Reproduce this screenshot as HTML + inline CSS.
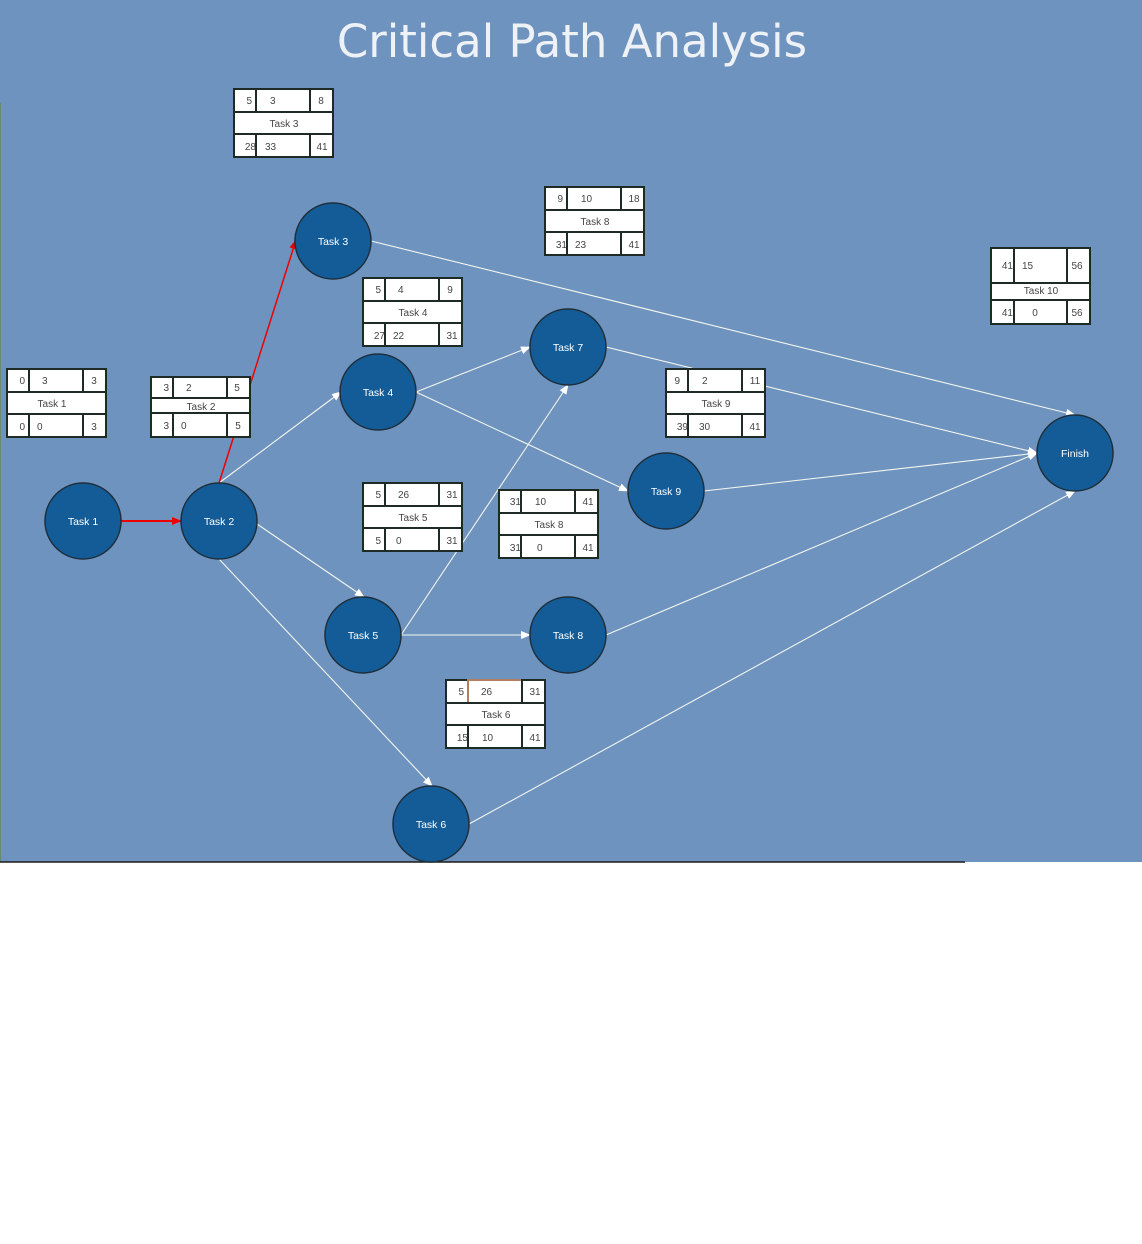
<!DOCTYPE html>
<html><head><meta charset="utf-8"><style>
body{margin:0;width:1142px;height:1244px;background:#fff;overflow:hidden}
svg{display:block}
text{font-family:"Liberation Sans",sans-serif}
.b rect{fill:#fff;stroke:#1e2a24;stroke-width:2}
.b text{font-size:10px;fill:#444}
.n circle{fill:#135c98;stroke:#1e2e3a;stroke-width:1.5}
.n text{font-size:10.5px;fill:#fff;text-anchor:middle}
.e{stroke:#f2f6ee;stroke-width:1.1;fill:none}
</style></head><body>
<svg width="1142" height="1244" viewBox="0 0 1142 1244">
<defs>
<marker id="aw" markerWidth="10" markerHeight="8" refX="9" refY="4" orient="auto" markerUnits="userSpaceOnUse"><path d="M0,0L10,4L0,8z" fill="#fff"/></marker>
<marker id="ar" markerWidth="10" markerHeight="8" refX="9" refY="4" orient="auto" markerUnits="userSpaceOnUse"><path d="M0,0L10,4L0,8z" fill="#e00"/></marker>
</defs>
<rect x="0" y="0" width="1142" height="862" fill="#6f93bf"/>
<line x1="0.5" y1="103" x2="0.5" y2="862" stroke="#6a8a70" stroke-width="1"/>
<line x1="0" y1="862" x2="965" y2="862" stroke="#1a1a1a" stroke-width="1.5"/>
<text x="572" y="57" font-size="45" fill="#eef2f6" text-anchor="middle" style="font-family:'DejaVu Sans','Liberation Sans',sans-serif;font-weight:normal">Critical Path Analysis</text>

<!-- edges -->
<line class="e" x1="371" y1="241" x2="1075" y2="415" marker-end="url(#aw)"/>
<line class="e" x1="219" y1="483" x2="341" y2="392" marker-end="url(#aw)"/>
<line class="e" x1="257" y1="524" x2="364" y2="597" marker-end="url(#aw)"/>
<line class="e" x1="219" y1="559" x2="432" y2="786" marker-end="url(#aw)"/>
<line class="e" x1="416" y1="392" x2="530" y2="347" marker-end="url(#aw)"/>
<line class="e" x1="416" y1="392" x2="628" y2="491" marker-end="url(#aw)"/>
<line class="e" x1="606" y1="347" x2="1037" y2="453" marker-end="url(#aw)"/>
<line class="e" x1="704" y1="491" x2="1037" y2="453" marker-end="url(#aw)"/>
<line class="e" x1="401" y1="635" x2="568" y2="385" marker-end="url(#aw)"/>
<line class="e" x1="401" y1="635" x2="530" y2="635" marker-end="url(#aw)"/>
<line class="e" x1="606" y1="635" x2="1037" y2="453" marker-end="url(#aw)"/>
<line class="e" x1="469" y1="824" x2="1075" y2="491" marker-end="url(#aw)"/>
<line x1="121" y1="521" x2="181" y2="521" stroke="#e00" stroke-width="2" marker-end="url(#ar)"/>
<line x1="219" y1="483" x2="296" y2="240" stroke="#e00" stroke-width="1.5" marker-end="url(#ar)"/>

<!-- nodes -->
<g class="n">
<circle cx="83" cy="521" r="38"/><text x="83" y="525">Task 1</text>
<circle cx="219" cy="521" r="38"/><text x="219" y="525">Task 2</text>
<circle cx="333" cy="241" r="38"/><text x="333" y="245">Task 3</text>
<circle cx="378" cy="392" r="38"/><text x="378" y="396">Task 4</text>
<circle cx="568" cy="347" r="38"/><text x="568" y="351">Task 7</text>
<circle cx="666" cy="491" r="38"/><text x="666" y="495">Task 9</text>
<circle cx="1075" cy="453" r="38"/><text x="1075" y="457">Finish</text>
<circle cx="363" cy="635" r="38"/><text x="363" y="639">Task 5</text>
<circle cx="568" cy="635" r="38"/><text x="568" y="639">Task 8</text>
<circle cx="431" cy="824" r="38"/><text x="431" y="828">Task 6</text>
</g>

<g class="b" transform="translate(234,89)">
<rect x="0" y="0" width="22" height="23"/><rect x="22" y="0" width="54" height="23"/><rect x="76" y="0" width="23" height="23"/>
<rect x="0" y="23" width="99" height="22"/>
<rect x="0" y="45" width="22" height="23"/><rect x="22" y="45" width="54" height="23"/><rect x="76" y="45" width="23" height="23"/>
<text x="18" y="15" text-anchor="end">5</text><text x="36" y="15">3</text><text x="87" y="15" text-anchor="middle">8</text>
<text x="50" y="38" text-anchor="middle">Task 3</text>
<text x="22" y="61" text-anchor="end">28</text><text x="31" y="61">33</text><text x="88" y="61" text-anchor="middle">41</text>
</g>
<g class="b" transform="translate(545,187)">
<rect x="0" y="0" width="22" height="23"/><rect x="22" y="0" width="54" height="23"/><rect x="76" y="0" width="23" height="23"/>
<rect x="0" y="23" width="99" height="22"/>
<rect x="0" y="45" width="22" height="23"/><rect x="22" y="45" width="54" height="23"/><rect x="76" y="45" width="23" height="23"/>
<text x="18" y="15" text-anchor="end">9</text><text x="36" y="15">10</text><text x="89" y="15" text-anchor="middle">18</text>
<text x="50" y="38" text-anchor="middle">Task 8</text>
<text x="22" y="61" text-anchor="end">31</text><text x="30" y="61">23</text><text x="89" y="61" text-anchor="middle">41</text>
</g>
<g class="b" transform="translate(363,278)">
<rect x="0" y="0" width="22" height="23"/><rect x="22" y="0" width="54" height="23"/><rect x="76" y="0" width="23" height="23"/>
<rect x="0" y="23" width="99" height="22"/>
<rect x="0" y="45" width="22" height="23"/><rect x="22" y="45" width="54" height="23"/><rect x="76" y="45" width="23" height="23"/>
<text x="18" y="15" text-anchor="end">5</text><text x="35" y="15">4</text><text x="87" y="15" text-anchor="middle">9</text>
<text x="50" y="38" text-anchor="middle">Task 4</text>
<text x="22" y="61" text-anchor="end">27</text><text x="30" y="61">22</text><text x="89" y="61" text-anchor="middle">31</text>
</g>
<g class="b" transform="translate(991,248)">
<rect x="0" y="0" width="23" height="35"/><rect x="23" y="0" width="53" height="35"/><rect x="76" y="0" width="23" height="35"/>
<rect x="0" y="35" width="99" height="17"/>
<rect x="0" y="52" width="23" height="24"/><rect x="23" y="52" width="53" height="24"/><rect x="76" y="52" width="23" height="24"/>
<text x="22" y="21" text-anchor="end">41</text><text x="31" y="21">15</text><text x="86" y="21" text-anchor="middle">56</text>
<text x="50" y="46" text-anchor="middle">Task 10</text>
<text x="22" y="68" text-anchor="end">41</text><text x="44" y="68" text-anchor="middle">0</text><text x="86" y="68" text-anchor="middle">56</text>
</g>
<g class="b" transform="translate(7,369)">
<rect x="0" y="0" width="22" height="23"/><rect x="22" y="0" width="54" height="23"/><rect x="76" y="0" width="23" height="23"/>
<rect x="0" y="23" width="99" height="22"/>
<rect x="0" y="45" width="22" height="23"/><rect x="22" y="45" width="54" height="23"/><rect x="76" y="45" width="23" height="23"/>
<text x="18" y="15" text-anchor="end">0</text><text x="35" y="15">3</text><text x="87" y="15" text-anchor="middle">3</text>
<text x="45" y="38" text-anchor="middle">Task 1</text>
<text x="18" y="61" text-anchor="end">0</text><text x="30" y="61">0</text><text x="87" y="61" text-anchor="middle">3</text>
</g>
<g class="b" transform="translate(151,377)">
<rect x="0" y="0" width="22" height="21"/><rect x="22" y="0" width="54" height="21"/><rect x="76" y="0" width="23" height="21"/>
<rect x="0" y="21" width="99" height="15"/>
<rect x="0" y="36" width="22" height="24"/><rect x="22" y="36" width="54" height="24"/><rect x="76" y="36" width="23" height="24"/>
<text x="18" y="14" text-anchor="end">3</text><text x="35" y="14">2</text><text x="86" y="14" text-anchor="middle">5</text>
<text x="50" y="33" text-anchor="middle">Task 2</text>
<text x="18" y="52" text-anchor="end">3</text><text x="30" y="52">0</text><text x="87" y="52" text-anchor="middle">5</text>
</g>
<g class="b" transform="translate(666,369)">
<rect x="0" y="0" width="22" height="23"/><rect x="22" y="0" width="54" height="23"/><rect x="76" y="0" width="23" height="23"/>
<rect x="0" y="23" width="99" height="22"/>
<rect x="0" y="45" width="22" height="23"/><rect x="22" y="45" width="54" height="23"/><rect x="76" y="45" width="23" height="23"/>
<text x="14" y="15" text-anchor="end">9</text><text x="36" y="15">2</text><text x="89" y="15" text-anchor="middle">11</text>
<text x="50" y="38" text-anchor="middle">Task 9</text>
<text x="22" y="61" text-anchor="end">39</text><text x="33" y="61">30</text><text x="89" y="61" text-anchor="middle">41</text>
</g>
<g class="b" transform="translate(363,483)">
<rect x="0" y="0" width="22" height="23"/><rect x="22" y="0" width="54" height="23"/><rect x="76" y="0" width="23" height="23"/>
<rect x="0" y="23" width="99" height="22"/>
<rect x="0" y="45" width="22" height="23"/><rect x="22" y="45" width="54" height="23"/><rect x="76" y="45" width="23" height="23"/>
<text x="18" y="15" text-anchor="end">5</text><text x="35" y="15">26</text><text x="89" y="15" text-anchor="middle">31</text>
<text x="50" y="38" text-anchor="middle">Task 5</text>
<text x="18" y="61" text-anchor="end">5</text><text x="33" y="61">0</text><text x="89" y="61" text-anchor="middle">31</text>
</g>
<g class="b" transform="translate(499,490)">
<rect x="0" y="0" width="22" height="23"/><rect x="22" y="0" width="54" height="23"/><rect x="76" y="0" width="23" height="23"/>
<rect x="0" y="23" width="99" height="22"/>
<rect x="0" y="45" width="22" height="23"/><rect x="22" y="45" width="54" height="23"/><rect x="76" y="45" width="23" height="23"/>
<text x="22" y="15" text-anchor="end">31</text><text x="36" y="15">10</text><text x="89" y="15" text-anchor="middle">41</text>
<text x="50" y="38" text-anchor="middle">Task 8</text>
<text x="22" y="61" text-anchor="end">31</text><text x="38" y="61">0</text><text x="89" y="61" text-anchor="middle">41</text>
</g>
<g class="b" transform="translate(446,680)">
<rect x="0" y="0" width="22" height="23"/><rect x="22" y="0" width="54" height="23" style="stroke:#b08060"/><rect x="76" y="0" width="23" height="23"/>
<rect x="0" y="23" width="99" height="22"/>
<rect x="0" y="45" width="22" height="23"/><rect x="22" y="45" width="54" height="23"/><rect x="76" y="45" width="23" height="23"/>
<text x="18" y="15" text-anchor="end">5</text><text x="35" y="15">26</text><text x="89" y="15" text-anchor="middle">31</text>
<text x="50" y="38" text-anchor="middle">Task 6</text>
<text x="22" y="61" text-anchor="end">15</text><text x="36" y="61">10</text><text x="89" y="61" text-anchor="middle">41</text>
</g>
</svg>
</body></html>
